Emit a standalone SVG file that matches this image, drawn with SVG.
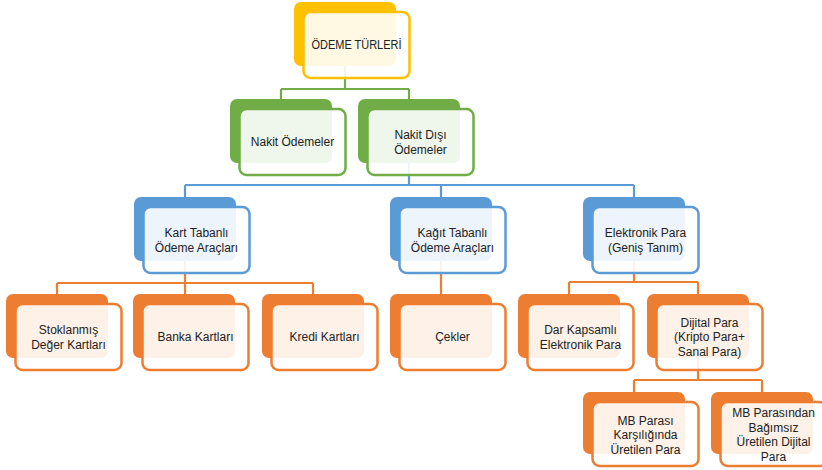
<svg xmlns="http://www.w3.org/2000/svg" width="822" height="470" viewBox="0 0 822 470">
  <style>
    .back { stroke: none; }
    .front { fill: #ffffff; fill-opacity: 0.89; stroke-width: 2.5; }
    .link { fill: none; stroke-width: 2.2; }
    .lbl { font-family: "Liberation Sans", Arial, sans-serif; font-size: 12px; fill: #222222; text-anchor: middle; }
    .y .back { fill: #FFC000; } .y .front { stroke: #FFC000; }
    .g .back { fill: #70AD47; } .g .front { stroke: #70AD47; }
    .b .back { fill: #5B9BD5; } .b .front { stroke: #5B9BD5; }
    .o .back { fill: #ED7D31; } .o .front { stroke: #ED7D31; }
    .lg { stroke: #70AD47; } .lb { stroke: #5B9BD5; } .lo { stroke: #ED7D31; }
  </style>

  <!-- connectors (drawn under the boxes) -->
  <g id="connectors">
    <path class="link lg" d="M345 66 V89 M281 89 H409 M281 89 V99 M409 89 V99"/>
    <path class="link lb" d="M409 163 V185 M185 185 H634 M185 185 V197 M441 185 V197 M634 185 V197"/>
    <path class="link lo" d="M185 260 V283 M57 283 H313 M57 283 V294 M185 283 V294 M313 283 V294"/>
    <path class="link lo" d="M441 260 V294"/>
    <path class="link lo" d="M634 260 V282 M569 282 H698 M569 282 V294 M698 282 V294"/>
    <path class="link lo" d="M698 358 V380 M634 380 H762 M634 380 V392 M762 380 V392"/>
  </g>

  <!-- level 1 -->
  <g id="odeme-turleri" class="y">
    <rect class="back" x="294" y="2" width="102" height="64" rx="7"/>
    <rect class="front" x="303.5" y="12" width="106" height="66" rx="7"/>
    <text class="lbl" x="356.5" y="49.3" textLength="90" lengthAdjust="spacingAndGlyphs">ÖDEME TÜRLERİ</text>
  </g>

  <!-- level 2 -->
  <g id="nakit-odemeler" class="g">
    <rect class="back" x="230" y="99" width="102" height="64" rx="7"/>
    <rect class="front" x="239.5" y="109" width="106" height="66" rx="7"/>
    <text class="lbl" x="292.5" y="146.3">Nakit Ödemeler</text>
  </g>
  <g id="nakit-disi-odemeler" class="g">
    <rect class="back" x="358" y="99" width="102" height="64" rx="7"/>
    <rect class="front" x="367.5" y="109" width="106" height="66" rx="7"/>
    <text class="lbl" x="420.5" y="139"><tspan x="420.5">Nakit Dışı</tspan><tspan x="420.5" dy="14.5">Ödemeler</tspan></text>
  </g>

  <!-- level 3 -->
  <g id="kart-tabanli" class="b">
    <rect class="back" x="134" y="197" width="102" height="64" rx="7"/>
    <rect class="front" x="143.5" y="207" width="106" height="66" rx="7"/>
    <text class="lbl" x="196.5" y="237"><tspan x="196.5">Kart Tabanlı</tspan><tspan x="196.5" dy="14.5">Ödeme Araçları</tspan></text>
  </g>
  <g id="kagit-tabanli" class="b">
    <rect class="back" x="390" y="197" width="102" height="64" rx="7"/>
    <rect class="front" x="399.5" y="207" width="106" height="66" rx="7"/>
    <text class="lbl" x="452.5" y="237"><tspan x="452.5">Kağıt Tabanlı</tspan><tspan x="452.5" dy="14.5">Ödeme Araçları</tspan></text>
  </g>
  <g id="elektronik-para" class="b">
    <rect class="back" x="583" y="197" width="102" height="64" rx="7"/>
    <rect class="front" x="592.5" y="207" width="106" height="66" rx="7"/>
    <text class="lbl" x="645.5" y="237"><tspan x="645.5">Elektronik Para</tspan><tspan x="645.5" dy="14.5">(Geniş Tanım)</tspan></text>
  </g>

  <!-- level 4 -->
  <g id="stoklanmis" class="o">
    <rect class="back" x="6" y="294" width="102" height="64" rx="7"/>
    <rect class="front" x="15.5" y="304" width="106" height="66" rx="7"/>
    <text class="lbl" x="68.5" y="334"><tspan x="68.5">Stoklanmış</tspan><tspan x="68.5" dy="14.5">Değer Kartları</tspan></text>
  </g>
  <g id="banka-kartlari" class="o">
    <rect class="back" x="133" y="294" width="102" height="64" rx="7"/>
    <rect class="front" x="142.5" y="304" width="106" height="66" rx="7"/>
    <text class="lbl" x="195.5" y="341.3">Banka Kartları</text>
  </g>
  <g id="kredi-kartlari" class="o">
    <rect class="back" x="262" y="294" width="102" height="64" rx="7"/>
    <rect class="front" x="271.5" y="304" width="106" height="66" rx="7"/>
    <text class="lbl" x="324.5" y="341.3">Kredi Kartları</text>
  </g>
  <g id="cekler" class="o">
    <rect class="back" x="390" y="294" width="102" height="64" rx="7"/>
    <rect class="front" x="399.5" y="304" width="106" height="66" rx="7"/>
    <text class="lbl" x="452.5" y="341.3">Çekler</text>
  </g>
  <g id="dar-kapsamli" class="o">
    <rect class="back" x="518" y="294" width="102" height="64" rx="7"/>
    <rect class="front" x="527.5" y="304" width="106" height="66" rx="7"/>
    <text class="lbl" x="580.5" y="334"><tspan x="580.5">Dar Kapsamlı</tspan><tspan x="580.5" dy="14.5">Elektronik Para</tspan></text>
  </g>
  <g id="dijital-para" class="o">
    <rect class="back" x="647" y="294" width="102" height="64" rx="7"/>
    <rect class="front" x="656.5" y="304" width="106" height="66" rx="7"/>
    <text class="lbl" x="709.5" y="326.8"><tspan x="709.5">Dijital Para</tspan><tspan x="709.5" dy="14.5">(Kripto Para+</tspan><tspan x="709.5" dy="14.5">Sanal Para)</tspan></text>
  </g>

  <!-- level 5 -->
  <g id="mb-parasi" class="o">
    <rect class="back" x="583" y="392" width="102" height="62" rx="7"/>
    <rect class="front" x="592.5" y="402" width="106" height="64" rx="7"/>
    <text class="lbl" x="645.5" y="424.8"><tspan x="645.5">MB Parası</tspan><tspan x="645.5" dy="14.5">Karşılığında</tspan><tspan x="645.5" dy="14.5">Üretilen Para</tspan></text>
  </g>
  <g id="mb-parasindan" class="o">
    <rect class="back" x="711" y="392" width="102" height="62" rx="7"/>
    <rect class="front" x="720.5" y="402" width="106" height="64" rx="7"/>
    <text class="lbl" x="773.5" y="417"><tspan x="773.5">MB Parasından</tspan><tspan x="773.5" dy="14.5">Bağımsız</tspan><tspan x="773.5" dy="14.5">Üretilen Dijital</tspan><tspan x="773.5" dy="14.5">Para</tspan></text>
  </g>
</svg>
